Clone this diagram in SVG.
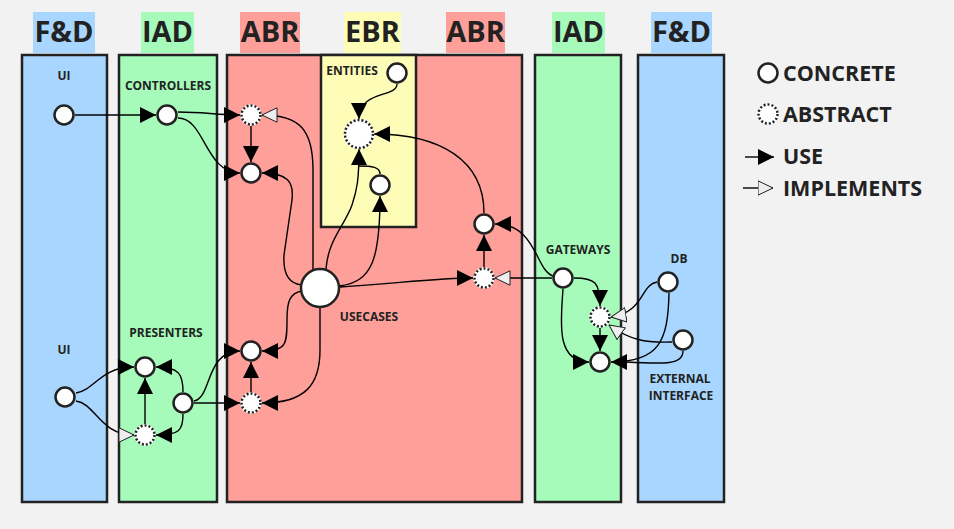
<svg xmlns="http://www.w3.org/2000/svg" width="954" height="529" viewBox="0 0 954 529">
<style>
text{font-family:"Open Sans","Noto Sans","Liberation Sans",sans-serif;font-weight:700;fill:#222}
.hdr{font-size:29px;text-anchor:middle}
.lbl{font-size:12px;text-anchor:middle}
.leg{font-size:21.5px}
.col{stroke:#222;stroke-width:2.5}
.blue{fill:#a9d6fe}.green{fill:#a6fbbb}.red{fill:#ff9f9a}.yellow{fill:#fefdb8}
.c{fill:#fff;stroke:#222;stroke-width:2.5}
.a0{fill:#fff;stroke:#fff;stroke-width:2.5}
.a{fill:none;stroke:#222;stroke-width:2.5;stroke-dasharray:2 2}
.e{fill:none;stroke:#000;stroke-width:1.4}
.u{marker-end:url(#use)}
.i{marker-end:url(#impl)}
</style>
<defs>
<marker id="use" viewBox="0 0 16 16" refX="16" refY="8" markerWidth="16" markerHeight="16" markerUnits="userSpaceOnUse" orient="auto"><path d="M0,0 L16,8 L0,16 z" fill="#000"/></marker>
<marker id="impl" viewBox="0 0 16 16" refX="15.5" refY="8" markerWidth="16" markerHeight="16" markerUnits="userSpaceOnUse" orient="auto"><path d="M0.5,0.8 L15.5,8 L0.5,15.2 z" fill="#eeeeee" stroke="#222" stroke-width="1"/></marker>
</defs>
<rect width="954" height="529" fill="#f2f2f2"/>

<g id="columns">
<g id="col-fd-left"><rect class="blue" x="33" y="12" width="62" height="41"/><text class="hdr" x="64" y="42">F&amp;D</text><rect class="col blue" x="22" y="55" width="85" height="447"/></g>
<g id="col-iad-left"><rect class="green" x="141" y="12" width="53" height="41"/><text class="hdr" x="167.5" y="42">IAD</text><rect class="col green" x="119" y="55" width="98" height="447"/></g>
<g id="col-abr"><rect class="red" x="240" y="12" width="60" height="41"/><text class="hdr" x="270" y="42">ABR</text><rect class="red" x="446" y="12" width="59" height="41"/><text class="hdr" x="475.5" y="42">ABR</text><rect class="col red" x="227" y="55" width="295" height="447"/></g>
<g id="col-ebr"><rect class="yellow" x="344" y="12" width="57" height="41"/><text class="hdr" x="372.5" y="42">EBR</text><rect class="col yellow" x="321" y="55" width="95" height="172"/></g>
<g id="col-iad-right"><rect class="green" x="552" y="12" width="53" height="41"/><text class="hdr" x="578.5" y="42">IAD</text><rect class="col green" x="535" y="55" width="86" height="447"/></g>
<g id="col-fd-right"><rect class="blue" x="651" y="12" width="61" height="41"/><text class="hdr" x="681.5" y="42">F&amp;D</text><rect class="col blue" x="638" y="55" width="86" height="447"/></g>
</g>

<g id="connectors">
<path class="e u" d="M75,115 L156,115"/>
<path class="e u" d="M178,112 C205,112 215,115 240,115"/>
<path class="e u" d="M178,118 C205,118 205,173 240,173"/>
<path class="e u" d="M251,126 L251,162"/>
<path class="e i" d="M313,270 L313,170 C313,130 300,115 262,115"/>
<path class="e u" d="M302,285 C288,284 283,272 284,255 L292,200 C294,182 288,173 262,173"/>
<path class="e u" d="M302,291 C289,293 287,303 287,320 C287,345 286,351 262,351"/>
<path class="e u" d="M320,308 L320,350 C320,385 305,403 262,403"/>
<path class="e u" d="M326,269 C328,240 345,225 352,205 C357,190 359,180 359,149"/>
<path class="e" d="M380,174 C380,167 372,166 359,166"/>
<path class="e u" d="M339,286 C372,282 380,260 380,196"/>
<path class="e u" d="M397,84 C397,98 359,90 359,119"/>
<path class="e u" d="M484,213 C484,160 440,134 374,134"/>
<path class="e u" d="M340,287 C400,283 440,278 473,278"/>
<path class="e u" d="M484,267 L484,235"/>
<path class="e i" d="M552,278 L495,278"/>
<path class="e u" d="M553,276 C535,270 537,224 495,224"/>
<path class="e u" d="M574,278 C595,278 600,282 600,306"/>
<path class="e u" d="M600,328 L600,351"/>
<path class="e u" d="M563,289 C561,320 555,362 589,362"/>
<path class="e i" d="M657,282 C640,285 645,312 611,317"/>
<path class="e i" d="M672,342 C645,343 630,340 609,325"/>
<path class="e u" d="M669,293 C668,340 660,362 611,362"/>
<path class="e" d="M683,351 C683,365 665,364 625,362"/>
<path class="e u" d="M76,393 C95,390 100,367 134,367"/>
<path class="e i" d="M76,401 C95,403 100,435 134,435"/>
<path class="e u" d="M145,424 L145,378"/>
<path class="e u" d="M183,392 C183,375 180,367 156,367"/>
<path class="e u" d="M183,414 C183,430 180,435 156,435"/>
<path class="e u" d="M194,403 L240,403"/>
<path class="e u" d="M194,401 C212,398 205,351 240,351"/>
<path class="e u" d="M251,392 L251,362"/>
</g>

<g id="node-ui-top"><text class="lbl" x="64" y="80">UI</text><circle class="c" cx="64" cy="115" r="9.5"/></g>
<g id="node-controllers"><text class="lbl" x="168" y="90">CONTROLLERS</text><circle class="c" cx="167" cy="115" r="9.5"/></g>
<g id="node-input-boundary"><circle class="a0" cx="251" cy="115" r="9.5"/><circle class="a" cx="251" cy="115" r="9.5"/></g>
<g id="node-input-data"><circle class="c" cx="251" cy="173" r="9.5"/></g>
<g id="node-entities"><text class="lbl" x="352" y="75">ENTITIES</text><circle class="c" cx="397" cy="73" r="9.5"/></g>
<g id="node-entity-abstract"><circle class="a0" cx="359" cy="134" r="14"/><circle class="a" cx="359" cy="134" r="14"/></g>
<g id="node-entity-concrete"><circle class="c" cx="380" cy="185" r="9.5"/></g>
<g id="node-usecases"><circle class="c" cx="320" cy="288" r="19"/><text class="lbl" x="369" y="321">USECASES</text></g>
<g id="node-gateway-data"><circle class="c" cx="484" cy="224" r="9.5"/></g>
<g id="node-gateway-abstract"><circle class="a0" cx="484" cy="278" r="9.5"/><circle class="a" cx="484" cy="278" r="9.5"/></g>
<g id="node-gateways"><text class="lbl" x="578" y="254">GATEWAYS</text><circle class="c" cx="563" cy="278" r="9.5"/></g>
<g id="node-db-abstract"><circle class="a0" cx="600" cy="317" r="9.5"/><circle class="a" cx="600" cy="317" r="9.5"/></g>
<g id="node-db-concrete"><circle class="c" cx="600" cy="362" r="9.5"/></g>
<g id="node-db"><text class="lbl" x="679" y="263">DB</text><circle class="c" cx="668" cy="282" r="9.5"/></g>
<g id="node-external"><circle class="c" cx="683" cy="340" r="9.5"/><text class="lbl" x="680" y="383">EXTERNAL</text><text class="lbl" x="681" y="400">INTERFACE</text></g>
<g id="node-ui-bottom"><text class="lbl" x="64" y="354">UI</text><circle class="c" cx="65" cy="397" r="9.5"/></g>
<g id="node-presenters"><text class="lbl" x="166" y="337">PRESENTERS</text><circle class="c" cx="145" cy="367" r="9.5"/></g>
<g id="node-presenter"><circle class="c" cx="183" cy="403" r="9.5"/></g>
<g id="node-view-abstract"><circle class="a0" cx="145" cy="435" r="9.5"/><circle class="a" cx="145" cy="435" r="9.5"/></g>
<g id="node-output-data"><circle class="c" cx="251" cy="351" r="9.5"/></g>
<g id="node-output-boundary"><circle class="a0" cx="251" cy="403" r="9.5"/><circle class="a" cx="251" cy="403" r="9.5"/></g>

<g id="legend">
<circle class="c" cx="768" cy="73" r="9.5"/><text class="leg" x="783" y="81">CONCRETE</text>
<circle class="a0" cx="768" cy="114" r="9.5"/><circle class="a" cx="768" cy="114" r="9.5"/><text class="leg" x="783" y="122">ABSTRACT</text>
<path class="e u" d="M745,157 L774,157"/><text class="leg" x="783" y="164">USE</text>
<path class="e i" d="M743,188 L773,188"/><text class="leg" x="783" y="196">IMPLEMENTS</text>
</g>
</svg>
